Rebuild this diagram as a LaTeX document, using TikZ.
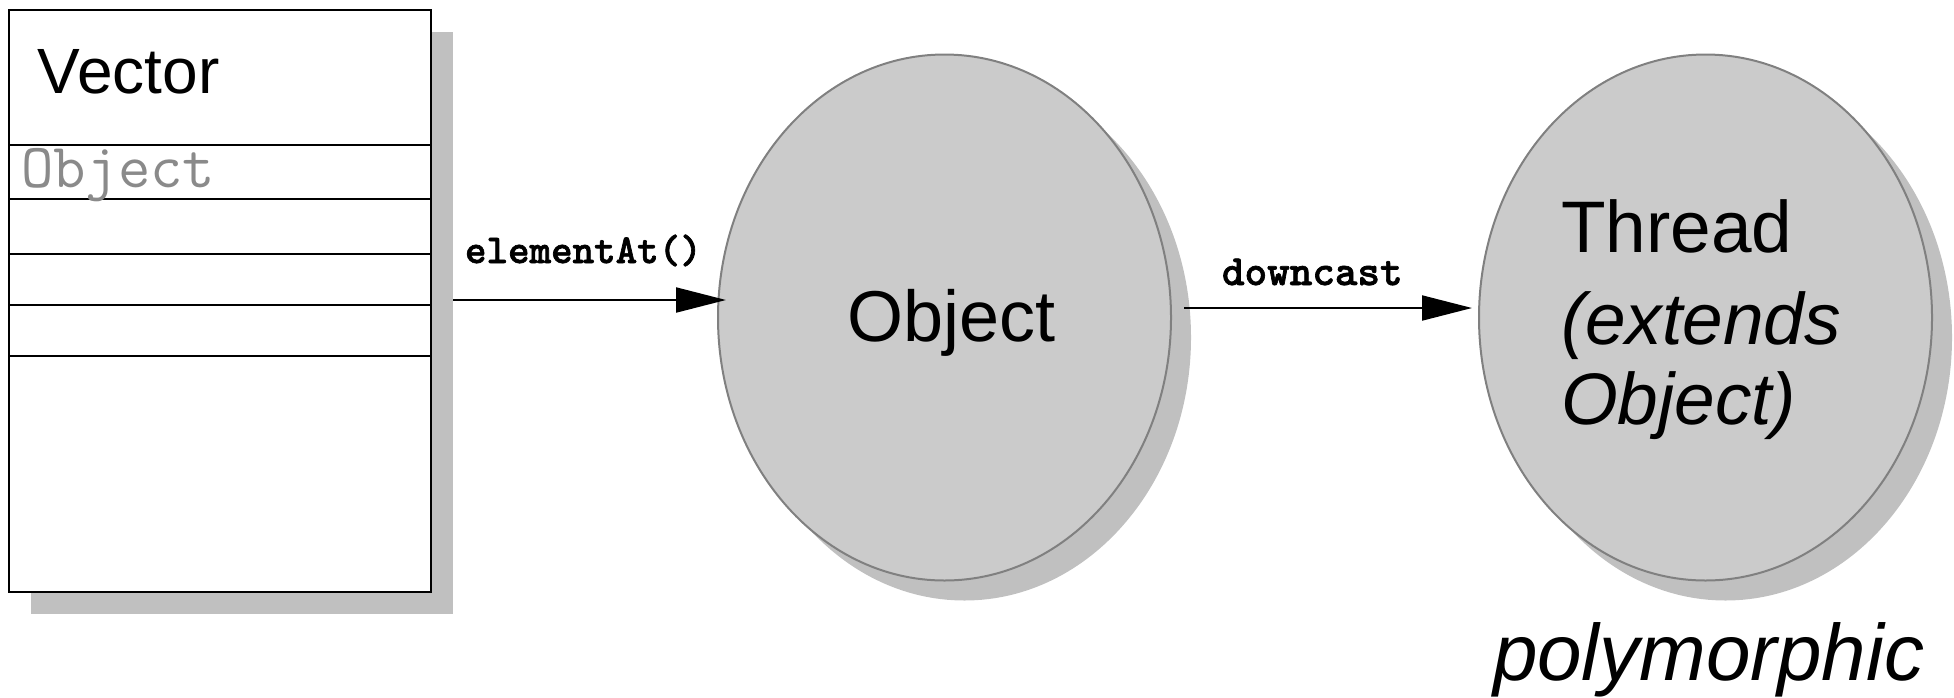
\documentclass[tikz,border=0pt]{standalone}
\usepackage{fontspec}
\setmainfont{Liberation Sans}
\newfontfamily\boldmono{lmmonolt10-bold.otf}[FakeBold=1.6]
\usetikzlibrary{shapes.geometric,arrows.meta}
\definecolor{shadowgray}{HTML}{C0C0C0}
\definecolor{blobgray}{HTML}{CBCBCB}
\definecolor{edgegray}{HTML}{808080}
\definecolor{textgray}{HTML}{8A8A8A}
\tikzset{
  shadowbox/.style={rectangle,fill=shadowgray,draw=none,inner sep=0pt,minimum width=211pt,minimum height=291.25pt},
  vecbox/.style={rectangle,fill=white,draw=black,line width=1pt,inner sep=0pt,minimum width=211pt,minimum height=291.25pt},
  blobshadow/.style={ellipse,fill=shadowgray,draw=none,inner sep=0pt,minimum width=226.5pt,minimum height=263pt},
  blob/.style={ellipse,fill=blobgray,draw=edgegray,line width=1pt,inner sep=0pt,minimum width=226.5pt,minimum height=263pt},
  txt/.style={anchor=base west,inner sep=0pt,outer sep=0pt},
  arr/.style={line width=1pt,-{Triangle[length=25pt,width=12.5pt]}},
  rowline/.style={line width=1pt,draw=black}
}
\begin{document}
\begin{tikzpicture}[x=0.5pt,y=-0.5pt]
\useasboundingbox (0,0) rectangle (1954,697);
% Vector box
\node[shadowbox] (vecsh) at (242,322.75) {};
\node[vecbox] (vec) at (220,300.75) {};
\foreach \yy in {145,199,254,305,356}{
  \draw[rowline] (vec.west |- 0,\yy) -- (vec.east |- 0,\yy);
}
\node[txt] (vectxt) at (38,93) {\fontsize{32}{38}\selectfont Vector};
\node[txt,text=textgray] (slot) at (21,187) {\ttfamily\fontsize{31.4}{36}\selectfont Object};
% Object blob
\node[blobshadow] (objsh) at (964.5,337.5) {};
\node[blob] (obj) at (944.5,317.5) {};
\node[txt] (objtxt) at (847,341) {\fontsize{36}{43}\selectfont Object};
% Thread blob
\node[blobshadow] (thrsh) at (1725.5,337.5) {};
\node[blob] (thr) at (1705.5,317.5) {};
\node[txt] (thr1) at (1561,252) {\fontsize{36.5}{43}\selectfont Thread};
\node[txt] (thr2) at (1561,344) {\fontsize{36.5}{43}\selectfont\itshape (extends};
\node[txt] (thr3) at (1561,424) {\fontsize{36.5}{43}\selectfont\itshape Object)};
% arrows
\draw[arr] (vecsh.east |- 0,300) -- ([xshift=4.5pt]obj.west |- 0,300);
\node[txt] (lab1) at (465,263) {\boldmono\fontsize{20.5}{24}\selectfont elementAt()};
\draw[arr] ([xshift=-3.5pt]objsh.east |- 0,308) -- ([xshift=-3pt]thr.west |- 0,308);
\node[txt] (lab2) at (1222,285) {\boldmono\fontsize{21.5}{25}\selectfont downcast};
% caption
\node[txt] (poly) at (1493,680) {\fontsize{40}{48}\selectfont\itshape polymorphic};
\end{tikzpicture}
\end{document}
